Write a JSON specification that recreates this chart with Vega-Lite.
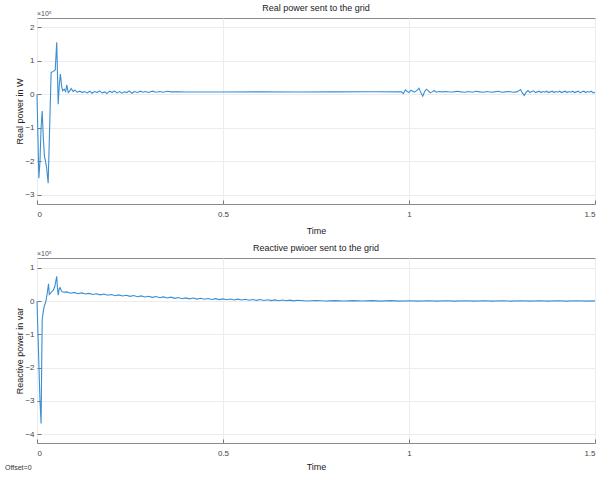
{
  "$schema": "https://vega.github.io/schema/vega-lite/v6.json",
  "background": "white",
  "padding": {"left": 4, "top": 3, "right": 6, "bottom": 0},
  "datasets": {
    "real": [
      {"t": 0, "v": 0}, {"t": 0.003, "v": -1.5}, {"t": 0.005, "v": -2.5}, {"t": 0.008, "v": -2.0}, {"t": 0.011, "v": -1.0},
      {"t": 0.014, "v": -0.5}, {"t": 0.017, "v": -1.3}, {"t": 0.02, "v": -1.85}, {"t": 0.023, "v": -2.0}, {"t": 0.026, "v": -2.2},
      {"t": 0.03, "v": -2.65}, {"t": 0.034, "v": -1.0}, {"t": 0.038, "v": 0.65}, {"t": 0.044, "v": 0.68}, {"t": 0.049, "v": 0.72},
      {"t": 0.053, "v": 1.55}, {"t": 0.057, "v": -0.3}, {"t": 0.06, "v": 0.3}, {"t": 0.063, "v": 0.6}, {"t": 0.066, "v": 0.25},
      {"t": 0.069, "v": 0.1}, {"t": 0.073, "v": 0.15}, {"t": 0.077, "v": 0.08}, {"t": 0.08, "v": 0.28}, {"t": 0.084, "v": 0.05},
      {"t": 0.088, "v": 0.1}, {"t": 0.092, "v": 0.17}, {"t": 0.097, "v": 0.08}, {"t": 0.102, "v": 0.12}, {"t": 0.108, "v": 0.06},
      {"t": 0.115, "v": 0.09}, {"t": 0.122, "v": 0.05}, {"t": 0.128, "v": 0.08}, {"t": 0.135, "v": 0.04}, {"t": 0.142, "v": 0.09},
      {"t": 0.148, "v": 0.03}, {"t": 0.155, "v": 0.08}, {"t": 0.162, "v": 0.05}, {"t": 0.168, "v": 0.1}, {"t": 0.175, "v": 0.04},
      {"t": 0.182, "v": 0.07}, {"t": 0.188, "v": 0.02}, {"t": 0.195, "v": 0.09}, {"t": 0.202, "v": 0.05}, {"t": 0.208, "v": 0.1},
      {"t": 0.215, "v": 0.04}, {"t": 0.222, "v": 0.08}, {"t": 0.228, "v": 0.03}, {"t": 0.235, "v": 0.07}, {"t": 0.242, "v": 0.05},
      {"t": 0.248, "v": 0.1}, {"t": 0.255, "v": 0.03}, {"t": 0.262, "v": 0.08}, {"t": 0.27, "v": 0.05}, {"t": 0.278, "v": 0.09},
      {"t": 0.285, "v": 0.06}, {"t": 0.292, "v": 0.08}, {"t": 0.3, "v": 0.05}, {"t": 0.31, "v": 0.09}, {"t": 0.32, "v": 0.06},
      {"t": 0.33, "v": 0.08}, {"t": 0.34, "v": 0.06}, {"t": 0.35, "v": 0.09}, {"t": 0.36, "v": 0.07}, {"t": 0.38, "v": 0.07},
      {"t": 0.4, "v": 0.065}, {"t": 0.5, "v": 0.065}, {"t": 0.6, "v": 0.07}, {"t": 0.7, "v": 0.068}, {"t": 0.8, "v": 0.07},
      {"t": 0.9, "v": 0.072}, {"t": 0.98, "v": 0.07}, {"t": 0.985, "v": 0.02}, {"t": 0.99, "v": 0.13}, {"t": 0.995, "v": 0.08},
      {"t": 1.0, "v": 0.05}, {"t": 1.005, "v": 0.12}, {"t": 1.01, "v": 0.09}, {"t": 1.015, "v": 0.06}, {"t": 1.022, "v": 0.12},
      {"t": 1.027, "v": 0.18}, {"t": 1.032, "v": 0.04}, {"t": 1.037, "v": -0.06}, {"t": 1.042, "v": 0.08}, {"t": 1.047, "v": 0.15},
      {"t": 1.052, "v": 0.1}, {"t": 1.057, "v": 0.04}, {"t": 1.062, "v": 0.07}, {"t": 1.068, "v": 0.11}, {"t": 1.073, "v": 0.06},
      {"t": 1.08, "v": 0.08}, {"t": 1.09, "v": 0.07}, {"t": 1.1, "v": 0.08}, {"t": 1.11, "v": 0.065}, {"t": 1.12, "v": 0.07},
      {"t": 1.13, "v": 0.09}, {"t": 1.14, "v": 0.07}, {"t": 1.15, "v": 0.06}, {"t": 1.16, "v": 0.08}, {"t": 1.17, "v": 0.06},
      {"t": 1.18, "v": 0.09}, {"t": 1.19, "v": 0.07}, {"t": 1.2, "v": 0.06}, {"t": 1.21, "v": 0.08}, {"t": 1.22, "v": 0.06},
      {"t": 1.23, "v": 0.07}, {"t": 1.24, "v": 0.09}, {"t": 1.25, "v": 0.06}, {"t": 1.26, "v": 0.07}, {"t": 1.27, "v": 0.08},
      {"t": 1.28, "v": 0.06}, {"t": 1.29, "v": 0.07}, {"t": 1.295, "v": 0.1}, {"t": 1.3, "v": 0.14}, {"t": 1.305, "v": 0.03},
      {"t": 1.31, "v": -0.04}, {"t": 1.315, "v": 0.06}, {"t": 1.32, "v": 0.11}, {"t": 1.325, "v": 0.05}, {"t": 1.33, "v": 0.08},
      {"t": 1.335, "v": 0.1}, {"t": 1.34, "v": 0.05}, {"t": 1.345, "v": 0.07}, {"t": 1.35, "v": 0.09}, {"t": 1.355, "v": 0.05},
      {"t": 1.36, "v": 0.08}, {"t": 1.365, "v": 0.06}, {"t": 1.37, "v": 0.09}, {"t": 1.375, "v": 0.05}, {"t": 1.38, "v": 0.07},
      {"t": 1.385, "v": 0.09}, {"t": 1.39, "v": 0.05}, {"t": 1.395, "v": 0.08}, {"t": 1.4, "v": 0.06}, {"t": 1.405, "v": 0.09},
      {"t": 1.41, "v": 0.05}, {"t": 1.415, "v": 0.07}, {"t": 1.42, "v": 0.09}, {"t": 1.425, "v": 0.05}, {"t": 1.43, "v": 0.08},
      {"t": 1.435, "v": 0.06}, {"t": 1.44, "v": 0.09}, {"t": 1.445, "v": 0.05}, {"t": 1.45, "v": 0.07}, {"t": 1.455, "v": 0.09},
      {"t": 1.46, "v": 0.04}, {"t": 1.465, "v": 0.07}, {"t": 1.47, "v": 0.09}, {"t": 1.475, "v": 0.05}, {"t": 1.48, "v": 0.08},
      {"t": 1.485, "v": 0.06}, {"t": 1.49, "v": 0.09}, {"t": 1.495, "v": 0.04}, {"t": 1.5, "v": 0.06}
    ],
    "reactive": [
      {"t": 0, "v": 0}, {"t": 0.004, "v": -1.5}, {"t": 0.008, "v": -3.0}, {"t": 0.011, "v": -3.68}, {"t": 0.0125, "v": -2.0},
      {"t": 0.014, "v": -0.55}, {"t": 0.017, "v": -0.3}, {"t": 0.019, "v": -0.18}, {"t": 0.021, "v": -0.1}, {"t": 0.024, "v": 0.0},
      {"t": 0.027, "v": 0.2}, {"t": 0.031, "v": 0.52}, {"t": 0.033, "v": 0.2}, {"t": 0.037, "v": 0.25}, {"t": 0.041, "v": 0.3},
      {"t": 0.044, "v": 0.33}, {"t": 0.048, "v": 0.45}, {"t": 0.053, "v": 0.75}, {"t": 0.055, "v": 0.4}, {"t": 0.057, "v": 0.18},
      {"t": 0.06, "v": 0.38}, {"t": 0.062, "v": 0.41}, {"t": 0.066, "v": 0.3}, {"t": 0.071, "v": 0.27},
      {"t": 0.08, "v": 0.28}, {"t": 0.09, "v": 0.24}, {"t": 0.1, "v": 0.265}, {"t": 0.11, "v": 0.225}, {"t": 0.12, "v": 0.25},
      {"t": 0.13, "v": 0.215}, {"t": 0.14, "v": 0.235}, {"t": 0.15, "v": 0.2}, {"t": 0.16, "v": 0.225}, {"t": 0.17, "v": 0.19},
      {"t": 0.18, "v": 0.215}, {"t": 0.19, "v": 0.18}, {"t": 0.2, "v": 0.2}, {"t": 0.21, "v": 0.165}, {"t": 0.22, "v": 0.19},
      {"t": 0.23, "v": 0.155}, {"t": 0.24, "v": 0.18}, {"t": 0.25, "v": 0.145}, {"t": 0.26, "v": 0.17}, {"t": 0.27, "v": 0.135},
      {"t": 0.28, "v": 0.16}, {"t": 0.29, "v": 0.125}, {"t": 0.3, "v": 0.15}, {"t": 0.31, "v": 0.115}, {"t": 0.32, "v": 0.14},
      {"t": 0.33, "v": 0.105}, {"t": 0.34, "v": 0.13}, {"t": 0.35, "v": 0.095}, {"t": 0.36, "v": 0.12}, {"t": 0.37, "v": 0.085},
      {"t": 0.38, "v": 0.11}, {"t": 0.39, "v": 0.075}, {"t": 0.4, "v": 0.1}, {"t": 0.41, "v": 0.07}, {"t": 0.42, "v": 0.095},
      {"t": 0.43, "v": 0.062}, {"t": 0.44, "v": 0.088}, {"t": 0.45, "v": 0.058}, {"t": 0.46, "v": 0.082}, {"t": 0.47, "v": 0.052},
      {"t": 0.48, "v": 0.076}, {"t": 0.49, "v": 0.046}, {"t": 0.5, "v": 0.07}, {"t": 0.51, "v": 0.042}, {"t": 0.52, "v": 0.065},
      {"t": 0.53, "v": 0.038}, {"t": 0.54, "v": 0.06}, {"t": 0.55, "v": 0.034}, {"t": 0.56, "v": 0.056}, {"t": 0.57, "v": 0.03},
      {"t": 0.58, "v": 0.052}, {"t": 0.59, "v": 0.026}, {"t": 0.6, "v": 0.048}, {"t": 0.61, "v": 0.022}, {"t": 0.62, "v": 0.044},
      {"t": 0.63, "v": 0.018}, {"t": 0.64, "v": 0.04}, {"t": 0.65, "v": 0.015}, {"t": 0.66, "v": 0.036}, {"t": 0.67, "v": 0.012},
      {"t": 0.68, "v": 0.032}, {"t": 0.69, "v": 0.008}, {"t": 0.7, "v": 0.026}, {"t": 0.725, "v": 0.006}, {"t": 0.75, "v": 0.02},
      {"t": 0.775, "v": 0.005}, {"t": 0.8, "v": 0.018}, {"t": 0.825, "v": 0.004}, {"t": 0.85, "v": 0.017}, {"t": 0.875, "v": 0.004},
      {"t": 0.9, "v": 0.016}, {"t": 0.925, "v": 0.003}, {"t": 0.95, "v": 0.016}, {"t": 0.975, "v": 0.003}, {"t": 1.0, "v": 0.015},
      {"t": 1.025, "v": 0.002}, {"t": 1.05, "v": 0.015}, {"t": 1.075, "v": 0.002}, {"t": 1.1, "v": 0.014}, {"t": 1.125, "v": 0.002},
      {"t": 1.15, "v": 0.014}, {"t": 1.175, "v": 0.002}, {"t": 1.2, "v": 0.014}, {"t": 1.225, "v": 0.002}, {"t": 1.25, "v": 0.014},
      {"t": 1.275, "v": 0.002}, {"t": 1.3, "v": 0.014}, {"t": 1.325, "v": 0.002}, {"t": 1.35, "v": 0.014}, {"t": 1.375, "v": 0.002},
      {"t": 1.4, "v": 0.014}, {"t": 1.425, "v": 0.002}, {"t": 1.45, "v": 0.014}, {"t": 1.475, "v": 0.002}, {"t": 1.5, "v": 0.01}
    ]
  },
  "config": {
    "font": "Liberation Sans",
    "view": {"stroke": "#8a8a8a", "strokeWidth": 1},
    "axis": {
      "gridColor": "#ececec", "domain": false, "tickColor": "#777777", "tickSize": -4,
      "labelFontSize": 8, "labelColor": "#444444", "labelOverlap": false, "format": "~g",
      "titleFontSize": 9, "titleFontWeight": "normal", "titleColor": "#222222"
    },
    "axisX": {"labelPadding": 10, "titlePadding": 8},
    "axisY": {"labelPadding": 7, "titlePadding": 0},
    "title": {"fontSize": 9, "fontWeight": "normal", "color": "#222222", "offset": -3},
    "concat": {"spacing": 7}
  },
  "vconcat": [
    {
      "title": "Real power sent to the grid",
      "width": 558, "height": 186,
      "layer": [
        {
          "data": {"name": "real"},
          "mark": {"type": "line", "color": "#3a8fd2", "strokeWidth": 1.1},
          "encoding": {
            "x": {"field": "t", "type": "quantitative", "scale": {"domain": [0, 1.5], "nice": false},
                  "axis": {"title": "Time", "values": [0, 0.5, 1, 1.5]}},
            "y": {"field": "v", "type": "quantitative", "scale": {"domain": [-3.27, 2.27], "nice": false, "zero": false},
                  "axis": {"title": "Real power in W", "values": [-3, -2, -1, 0, 1, 2]}}
          }
        },
        {
          "data": {"values": [{"label": "×10⁵"}]},
          "mark": {"type": "text", "align": "left", "baseline": "bottom", "fontSize": 7, "color": "#555555", "dy": -1},
          "encoding": {
            "x": {"datum": 0, "axis": {"title": "Time", "values": [0, 0.5, 1, 1.5]}},
            "y": {"datum": 2.27, "axis": {"title": "Real power in W", "values": [-3, -2, -1, 0, 1, 2]}},
            "text": {"field": "label"}
          }
        }
      ]
    },
    {
      "title": "Reactive pwioer sent to the grid",
      "width": 558, "height": 185,
      "layer": [
        {
          "data": {"name": "reactive"},
          "mark": {"type": "line", "color": "#3a8fd2", "strokeWidth": 1.1},
          "encoding": {
            "x": {"field": "t", "type": "quantitative", "scale": {"domain": [0, 1.5], "nice": false},
                  "axis": {"title": "Time", "values": [0, 0.5, 1, 1.5], "titlePadding": 5}},
            "y": {"field": "v", "type": "quantitative", "scale": {"domain": [-4.27, 1.3], "nice": false, "zero": false},
                  "axis": {"title": "Reactive power in var", "values": [-4, -3, -2, -1, 0, 1]}}
          }
        },
        {
          "data": {"values": [{"label": "×10⁵"}]},
          "mark": {"type": "text", "align": "left", "baseline": "bottom", "fontSize": 7, "color": "#555555", "dy": -1},
          "encoding": {
            "x": {"datum": 0, "axis": {"title": "Time", "values": [0, 0.5, 1, 1.5], "titlePadding": 5}},
            "y": {"datum": 1.3, "axis": {"title": "Reactive power in var", "values": [-4, -3, -2, -1, 0, 1]}},
            "text": {"field": "label"}
          }
        },
        {
          "data": {"values": [{"label": "Offset=0"}]},
          "mark": {"type": "text", "align": "left", "baseline": "middle", "fontSize": 7, "color": "#333333", "dx": -32, "dy": 25},
          "encoding": {
            "x": {"datum": 0, "axis": {"title": "Time", "values": [0, 0.5, 1, 1.5], "titlePadding": 5}},
            "y": {"datum": -4.27, "axis": {"title": "Reactive power in var", "values": [-4, -3, -2, -1, 0, 1]}},
            "text": {"field": "label"}
          }
        }
      ]
    }
  ]
}
